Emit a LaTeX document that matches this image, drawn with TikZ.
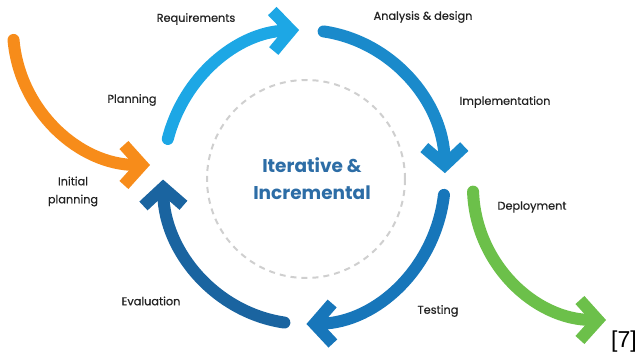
\documentclass[tikz,border=0pt]{standalone}
\usepackage{fontspec}
\setmainfont{Poppins}
\newfontfamily\lblfont[FakeBold=0.5]{Poppins}
\newfontfamily\refont{Liberation Sans}
\usetikzlibrary{arrows.meta,calc}
\definecolor{cOrange}{HTML}{F78C1A}
\definecolor{cReq}{HTML}{1DA7E5}
\definecolor{cAna}{HTML}{1A8ACB}
\definecolor{cTest}{HTML}{1776BA}
\definecolor{cEval}{HTML}{1A64A0}
\definecolor{cGreen}{HTML}{6CC04A}
\definecolor{cTitle}{HTML}{2D6DA6}
\definecolor{cLabel}{HTML}{222222}
\definecolor{cDash}{HTML}{CFCFCF}
\tikzset{
  flow/.style={line width=12pt, line cap=round, -{Straight Barb[length=18pt,width=40pt]}},
  lbl/.style={font=\lblfont\fontsize{11.3}{12}\selectfont, text=cLabel, inner sep=0pt},
}
\begin{document}
\begin{tikzpicture}[x=1pt,y=1pt]
\useasboundingbox (0,0) rectangle (638,353);
\coordinate (C) at (304,176);
\coordinate (D) at (306,174);
\coordinate (O) at (150,325);
\coordinate (G) at (606,166);
% dashed inner circle
\draw[cDash, line width=2pt, dash pattern=on 6pt off 5pt] (D) circle[radius=99];
% cycle arcs
\draw[flow, cReq]  ($(C)+(165:141 and 147)$) arc[start angle=165, end angle=92, x radius=141, y radius=147];
\draw[flow, cAna]  ($(C)+(82:141 and 147)$) arc[start angle=82, end angle=1.5, x radius=141, y radius=147];
\draw[flow, cTest] ($(C)+(-7:141 and 147)$) arc[start angle=-7, end angle=-89, x radius=141, y radius=147];
\draw[flow, cEval] ($(C)+(-98:141 and 147)$) arc[start angle=-98, end angle=-179, x radius=141, y radius=147];
% entry and exit arcs
\draw[flow, cOrange] ($(O)+(185:137)$) arc[start angle=185, end angle=270, radius=137];
\draw[flow, cGreen]  ($(G)+(182:133)$) arc[start angle=182, end angle=270, radius=133];
% labels
\node[lbl] (req) at (196,334) {Requirements};
\node[lbl] (ana) at (423,336) {Analysis \& design};
\node[lbl] (imp) at (505,251) {Implementation};
\node[lbl] (pla) at (132,253) {Planning};
\node[lbl, align=center] (ini) at (73,161.5) {Initial\\[6pt]planning};
\node[lbl] (dep) at (532,146) {Deployment};
\node[lbl] (tes) at (438,42) {Testing};
\node[lbl] (eva) at (151,52) {Evaluation};
\node[font=\fontsize{18.5}{27}\selectfont\bfseries, text=cTitle, align=center, inner sep=0pt] (title) at (312,174.5) {Iterative \&\\Incremental};
\node[font=\refont\fontsize{23}{26}\selectfont, anchor=base east, inner sep=0pt] (ref) at (637,5) {[7]};
\end{tikzpicture}
\end{document}
